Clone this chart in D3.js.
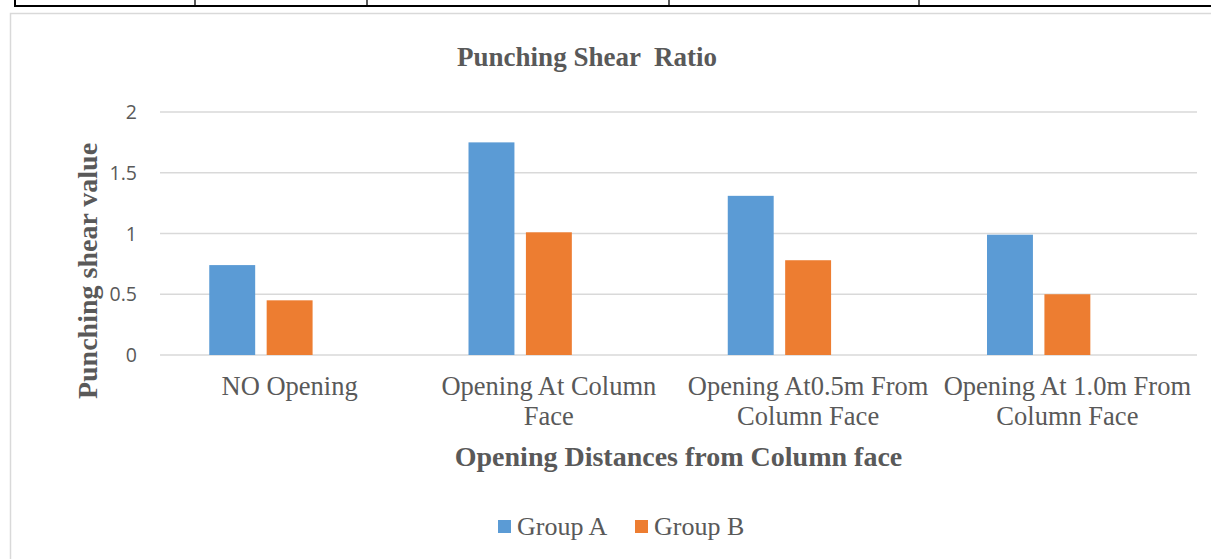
<!DOCTYPE html>
<meta charset="utf-8">
<style>
body { margin: 0; background: #fff; }
svg { display: block; }
text { white-space: pre; }
</style>
<body>
<script src="https://cdn.jsdelivr.net/npm/d3@7"></script>
<script>

// chart data
var categories = ["NO Opening", "Opening At Column Face", "Opening At0.5m From Column Face", "Opening At 1.0m From Column Face"];
var seriesNames = ["Group A", "Group B"];
var groupA = [0.74, 1.75, 1.31, 0.99];
var groupB = [0.45, 1.01, 0.78, 0.50];
var yTicks = [0, 0.5, 1, 1.5, 2];
var colors = ["#5b9bd5", "#ed7d31"];

var W = 1211, H = 559;
var plot = {left: 160, right: 1197, top: 112, bottom: 355};
var grey = "#595959";

var svg = d3.select("body").append("svg")
    .attr("width", W)
    .attr("height", H);

svg.append("rect").attr("width", W).attr("height", H).attr("fill", "#fff");

// bit of the document table above the chart
svg.append("line")
    .attr("x1", 14).attr("x2", W).attr("y1", 6).attr("y2", 6)
    .attr("stroke", "#000").attr("stroke-width", 2.2);
[15, 195, 367, 669, 919].forEach(function(x, i) {
  svg.append("line")
      .attr("x1", x).attr("x2", x).attr("y1", 0).attr("y2", 6)
      .attr("stroke", "#000").attr("stroke-width", i == 0 ? 2 : 1.3);
});

// chart area frame
svg.append("rect")
    .attr("x", 10.5).attr("y", 13.5)
    .attr("width", W + 20).attr("height", H + 20)
    .attr("fill", "#fff")
    .attr("stroke", "#d9d9d9").attr("stroke-width", 1.5);

// scales
var x0 = d3.scaleBand()
    .domain(categories)
    .range([plot.left, plot.right])
    .paddingInner(0.38)
    .paddingOuter(0.19);

// three slots per cluster, the third one is empty in the source chart
var x1 = d3.scaleBand()
    .domain([0, 1, 2])
    .range([0, x0.bandwidth()])
    .paddingInner(0.2);

var y = d3.scaleLinear()
    .domain([0, 2])
    .range([plot.bottom, plot.top]);

// gridlines
svg.append("g")
  .selectAll("line")
  .data(yTicks)
  .join("line")
    .attr("x1", plot.left).attr("x2", plot.right)
    .attr("y1", function(d) { return y(d); })
    .attr("y2", function(d) { return y(d); })
    .attr("stroke", "#d9d9d9").attr("stroke-width", 1.5);

// y tick labels
svg.append("g")
  .selectAll("text")
  .data(yTicks)
  .join("text")
    .attr("x", 137)
    .attr("y", function(d) { return y(d); })
    .attr("dy", "0.36em")
    .attr("text-anchor", "end")
    .attr("font-family", "'Open Sans', sans-serif")
    .attr("font-size", 19.5)
    .attr("fill", grey)
    .text(function(d) { return d; });

// bars
var series = [groupA, groupB];
series.forEach(function(vals, s) {
  svg.append("g")
    .selectAll("rect")
    .data(vals)
    .join("rect")
      .attr("x", function(d, i) { return x0(categories[i]) + x1(s); })
      .attr("y", function(d) { return y(d); })
      .attr("width", x1.bandwidth())
      .attr("height", function(d) { return y(0) - y(d); })
      .attr("fill", colors[s]);
});

// category labels, wrapped to the category width
var labelFont = "'Liberation Serif', 'Times New Roman', serif";
categories.forEach(function(cat) {
  var t = svg.append("text")
      .attr("text-anchor", "middle")
      .attr("font-family", labelFont)
      .attr("font-size", 26.5)
      .attr("fill", grey);
  var cx = x0(cat) + x0.bandwidth() / 2;
  var words = cat.split(" "), line = [], lineNo = 0;
  var tspan = t.append("tspan").attr("x", cx).attr("y", 395);
  words.forEach(function(w) {
    line.push(w);
    tspan.text(line.join(" "));
    if (tspan.node().getComputedTextLength() > x0.step() - 4 && line.length > 1) {
      line.pop();
      tspan.text(line.join(" "));
      line = [w];
      lineNo++;
      tspan = t.append("tspan").attr("x", cx).attr("y", 395 + lineNo * 30).text(w);
    }
  });
});

// titles
svg.append("text")
    .attr("x", 587)
    .attr("y", 66)
    .attr("text-anchor", "middle")
    .attr("font-family", labelFont)
    .attr("font-weight", "bold")
    .attr("font-size", 27)
    .attr("fill", grey)
    .text("Punching Shear  Ratio");

svg.append("text")
    .attr("x", (plot.left + plot.right) / 2)
    .attr("y", 466)
    .attr("text-anchor", "middle")
    .attr("font-family", labelFont)
    .attr("font-weight", "bold")
    .attr("font-size", 28)
    .attr("fill", grey)
    .text("Opening Distances from Column face");

svg.append("text")
    .attr("transform", "translate(97,271) rotate(-90)")
    .attr("text-anchor", "middle")
    .attr("font-family", labelFont)
    .attr("font-weight", "bold")
    .attr("font-size", 28)
    .attr("fill", grey)
    .text("Punching shear value");

// legend
var legend = svg.append("g");
var lx = [498, 635];
seriesNames.forEach(function(name, i) {
  legend.append("rect")
      .attr("x", lx[i]).attr("y", 520)
      .attr("width", 13).attr("height", 13)
      .attr("fill", colors[i]);
  legend.append("text")
      .attr("x", lx[i] + 19).attr("y", 535)
      .attr("font-family", labelFont)
      .attr("font-size", 26)
      .attr("fill", grey)
      .text(name);
});

</script>
</body>
